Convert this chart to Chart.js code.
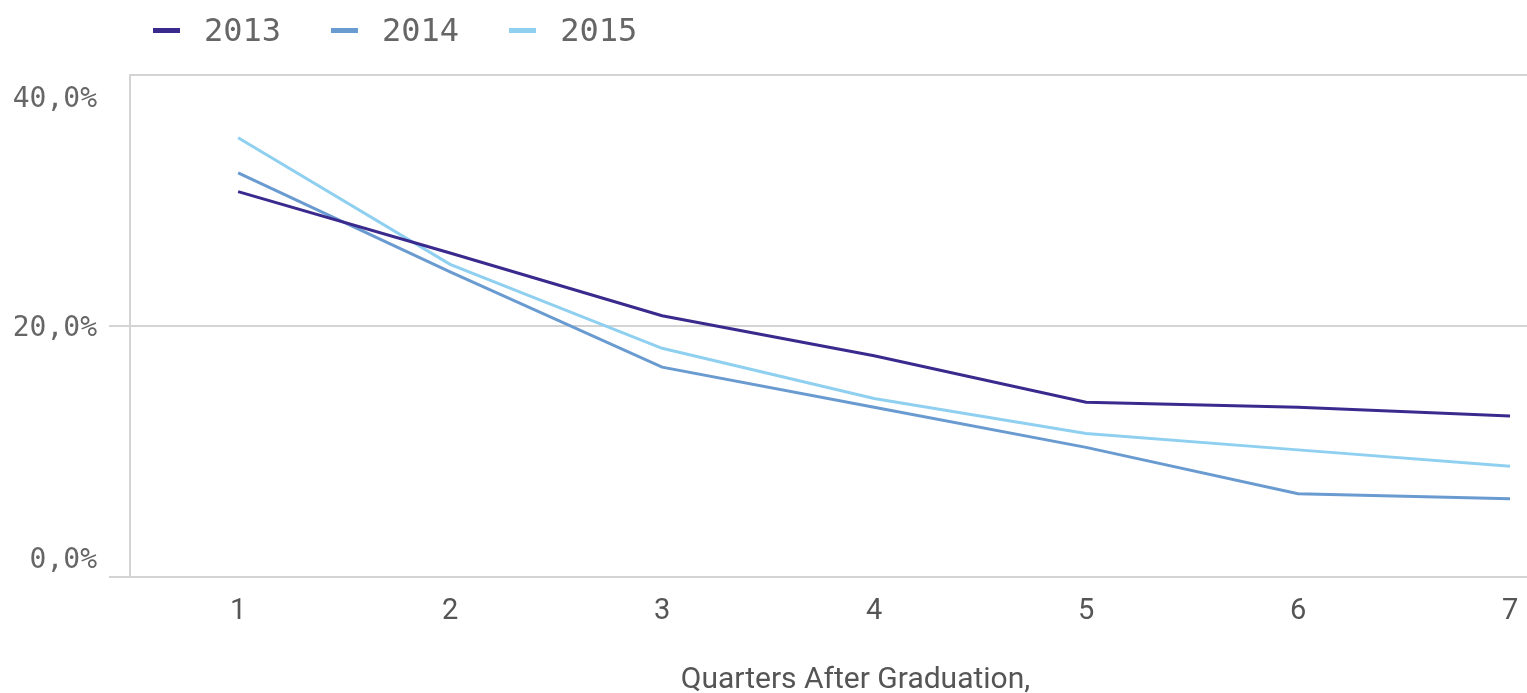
<!DOCTYPE html>
<html>
<head>
<meta charset="utf-8">
<script src="https://cdn.jsdelivr.net/npm/chart.js@4"></script>
<style>
  html, body { margin: 0; padding: 0; background: #fff; }
  #wrap { position: relative; width: 1527px; height: 693px; }
  #legend { position: absolute; left: 153px; top: 11px; display: flex; align-items: center;
            font-family: "DejaVu Sans Mono", monospace; font-size: 32px; color: #666; }
  .item { display: flex; align-items: center; margin-right: 50px; }
  .mark { width: 27px; height: 5px; margin-right: 24px; }
</style>
</head>
<body>
<div id="wrap">
  <canvas id="chart" width="1527" height="693"></canvas>
  <div id="legend"></div>
</div>
<script>
// ===== DATA =====
const quarters = [1, 2, 3, 4, 5, 6, 7];
const years = ["2013", "2014", "2015"];
const colors = ["#3b2a8e", "#6a9bd0", "#8fd0f0"];

const rate2013 = [30.7, 25.8, 20.8, 17.6, 13.9, 13.5, 12.8];
const rate2014 = [32.2, 24.3, 16.7, 13.5, 10.3, 6.6, 6.2];
const rate2015 = [35.0, 24.9, 18.2, 14.2, 11.4, 10.1, 8.8];

const yTicks = [0, 20, 40];
const xTitle = "Quarters After Graduation,";

const gridColor = "#d4d4d4";

// ===== LEGEND =====
const legendEl = document.getElementById("legend");
years.forEach((y, i) => {
    const item = document.createElement("div");
    item.className = "item";
    item.innerHTML = `<span class="mark" style="background:${colors[i]}"></span><span>${y}</span>`;
    legendEl.appendChild(item);
});

function fmtPct(v){
    return v.toFixed(1).replace(".", ",") + "%";
}

// y labels pushed inside the plot at the ends, x title
const labelPlugin = {
    id: "labels",
    afterDraw(chart){
        const ctx = chart.ctx;
        const ys = chart.scales.y;
        const area = chart.chartArea;
        ctx.save();
        ctx.font = '28px "DejaVu Sans Mono"';
        ctx.fillStyle = "#666";
        ctx.textAlign = "right";
        ctx.textBaseline = "middle";
        yTicks.forEach(v => {
            let py = ys.getPixelForValue(v);
            py = Math.max(area.top + 22, Math.min(area.bottom - 19, py));
            ctx.fillText(fmtPct(v), 97, py + 3);
        });
        ctx.font = '30px Roboto';
        ctx.fillStyle = "#555";
        ctx.textAlign = "center";
        ctx.fillText(xTitle, area.left + (area.right - area.left) / 2 + 27, 680);
        ctx.restore();
    }
};

const toPoints = arr => arr.map((v, i) => ({ x: quarters[i], y: v }));

new Chart(document.getElementById("chart"), {
    type: 'line',
    data: {
        datasets: [rate2013, rate2014, rate2015].map((d, i) => ({
            label: years[i],
            data: toPoints(d),
            borderColor: colors[i],
            backgroundColor: colors[i],
            borderWidth: 3,
            pointRadius: 0,
            tension: 0
        }))
    },
    options: {
        responsive: false,
        animation: false,
        layout: { padding: { top: 75, right: 0, left: 0, bottom: 0 } },
        plugins: { legend: { display: false }, tooltip: { enabled: false } },
        scales: {
            x: {
                type: 'linear',
                min: 0.49,
                max: 7.08,
                afterBuildTicks: s => { s.ticks = quarters.map(v => ({ value: v })); },
                afterFit: s => { s.height = 116.5; s.paddingLeft = 0; s.paddingRight = 0; },
                grid: { display: false, drawTicks: false },
                border: { display: true, color: gridColor, width: 2 },
                ticks: {
                    padding: 18,
                    color: "#555",
                    font: { family: "Roboto", size: 29 },
                    callback: v => String(v)
                }
            },
            y: {
                min: 0,
                max: 40,
                afterBuildTicks: s => { s.ticks = yTicks.map(v => ({ value: v })); },
                afterFit: s => { s.width = 130; },
                grid: {
                    color: gridColor,
                    lineWidth: 2,
                    tickLength: 21,
                    tickColor: c => (c.tick && c.tick.value === 40) ? "rgba(0,0,0,0)" : gridColor
                },
                border: { display: true, color: gridColor, width: 2 },
                ticks: { display: false }
            }
        }
    },
    plugins: [labelPlugin]
});
</script>
</body>
</html>
